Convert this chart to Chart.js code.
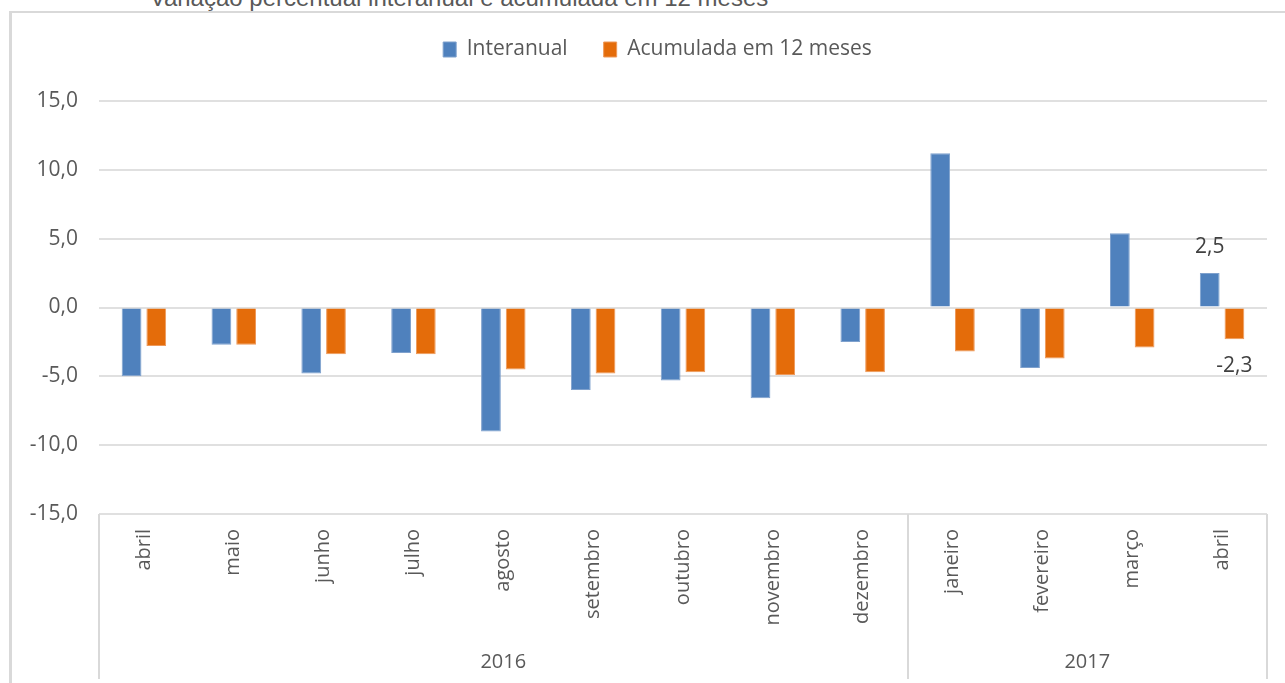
<!DOCTYPE html>
<html lang="pt">
<head>
<meta charset="utf-8">
<title>Variação percentual interanual e acumulada em 12 meses</title>
<script src="https://cdn.jsdelivr.net/npm/chart.js@4.4.1/dist/chart.umd.min.js"></script>
<style>
  html, body { margin: 0; padding: 0; background: #fff; overflow: hidden; }
  #wrap { position: relative; width: 1285px; height: 683px; }
  #frame {
    position: absolute; left: 9px; top: 11px; width: 1400px; height: 800px;
    border-left: 3px solid #d9d9d9; border-top: 2px solid #d9d9d9;
  }
  #title {
    position: absolute; left: 0; top: -14px; width: 918px; text-align: center;
    font: 24px/24px "Liberation Sans", Arial, sans-serif; color: #595959; white-space: nowrap;
  }
  #chart-box { position: absolute; left: 0; top: 0; width: 1285px; height: 683px; }
</style>
</head>
<body>
<div id="wrap">
  <div id="frame"></div>
  <div id="title">Variação percentual interanual e acumulada em 12 meses</div>
  <div id="chart-box"><canvas id="chart"></canvas></div>
</div>
<script>
(function () {
  'use strict';

  // months, grouped by year
  var months = ['abril', 'maio', 'junho', 'julho', 'agosto', 'setembro', 'outubro', 'novembro', 'dezembro', 'janeiro', 'fevereiro', 'março', 'abril'];
  var years = ['2016', '2017'];
  var yearSpans = [9, 4];

  var interanual = [-5.0, -2.7, -4.8, -3.3, -9.0, -6.0, -5.3, -6.6, -2.5, 11.2, -4.4, 5.4, 2.5];
  var acumulada = [-2.8, -2.7, -3.4, -3.4, -4.5, -4.8, -4.7, -4.9, -4.7, -3.2, -3.7, -2.9, -2.3];

  var yTicks = [-15, -10, -5, 0, 5, 10, 15];
  var labeledIndex = 12;

  var GRAY = '#595959';
  var GRID = '#e0e0e0';

  function fmt(v) {
    return v.toFixed(1).replace('.', ',');
  }

  function yearCenters() {
    var out = [];
    var start = 0;
    yearSpans.forEach(function (n) {
      out.push(start + n / 2);
      start += n;
    });
    return out;
  }

  function yearBounds() {
    var out = [0];
    var start = 0;
    yearSpans.forEach(function (n) {
      start += n;
      out.push(start);
    });
    return out;
  }

  var legendSpace = {
    id: 'legendSpace',
    beforeInit: function (chart) {
      var fit = chart.legend.fit;
      chart.legend.fit = function () {
        fit.bind(chart.legend)();
        this.height += 34;
      };
    },
    afterLayout: function (chart) {
      chart.legend.left += 18;
      chart.legend.right += 18;
      chart.legend.top += 3;
      chart.legend.bottom += 3;
    }
  };

  var separators = {
    id: 'separators',
    afterDraw: function (chart) {
      var xs = chart.scales.x;
      var ctx = chart.ctx;
      var step = xs.getPixelForValue(1) - xs.getPixelForValue(0);
      var first = xs.getPixelForValue(0) - step / 2;
      ctx.save();
      ctx.strokeStyle = '#d9d9d9';
      ctx.lineWidth = 2;
      yearBounds().forEach(function (b) {
        var x = Math.round(first + b * step);
        ctx.beginPath();
        ctx.moveTo(x, chart.chartArea.bottom);
        ctx.lineTo(x, chart.height - 4);
        ctx.stroke();
      });
      ctx.restore();
    }
  };

  var valueLabels = {
    id: 'valueLabels',
    afterDatasetsDraw: function (chart) {
      var ctx = chart.ctx;
      ctx.save();
      ctx.font = '21px "Open Sans", sans-serif';
      ctx.fillStyle = '#404040';
      ctx.textAlign = 'center';
      ctx.textBaseline = 'middle';
      chart.data.datasets.forEach(function (ds, i) {
        var el = chart.getDatasetMeta(i).data[labeledIndex];
        var v = ds.data[labeledIndex];
        var y = v >= 0 ? el.y - 26 : el.y + 27;
        ctx.fillText(fmt(v), el.x, y);
      });
      ctx.restore();
    }
  };

  Chart.defaults.font.family = '"Open Sans", sans-serif';
  Chart.defaults.color = GRAY;

  new Chart(document.getElementById('chart').getContext('2d'), {
    type: 'bar',
    data: {
      labels: months,
      datasets: [
        {
          label: 'Interanual',
          data: interanual,
          backgroundColor: '#4f81bd',
          borderColor: '#7fa1cd',
          borderWidth: 1,
          categoryPercentage: 0.55,
          barPercentage: 0.8
        },
        {
          label: 'Acumulada em 12 meses',
          data: acumulada,
          backgroundColor: '#e46c0a',
          borderColor: '#ee995a',
          borderWidth: 1,
          categoryPercentage: 0.55,
          barPercentage: 0.8
        }
      ]
    },
    options: {
      responsive: true,
      maintainAspectRatio: false,
      animation: false,
      layout: { padding: { left: 12, right: 18, top: 0, bottom: 0 } },
      scales: {
        x: {
          weight: 0,
          grid: { display: false, drawTicks: false },
          border: { display: false },
          ticks: {
            minRotation: 90,
            maxRotation: 90,
            autoSkip: false,
            padding: 15,
            color: GRAY,
            font: { size: 20 }
          },
          afterFit: function (scale) { scale.height = 130; }
        },
        x2: {
          type: 'linear',
          position: 'bottom',
          weight: 1,
          offset: false,
          min: 0,
          max: months.length,
          grid: { display: false, drawTicks: false, offset: false },
          border: { display: false },
          afterBuildTicks: function (scale) {
            scale.ticks = yearCenters().map(function (v) { return { value: v }; });
          },
          ticks: {
            autoSkip: false,
            maxRotation: 0,
            padding: 6,
            color: GRAY,
            font: { size: 20 },
            callback: function (v, i) { return years[i]; }
          },
          afterFit: function (scale) { scale.height = 39; }
        },
        y: {
          min: -15,
          max: 15,
          grid: { color: GRID, lineWidth: 2, drawTicks: false },
          border: { display: false },
          afterBuildTicks: function (scale) {
            scale.ticks = yTicks.map(function (v) { return { value: v }; });
          },
          ticks: {
            padding: 21,
            color: GRAY,
            font: { size: 21 },
            callback: function (v) { return fmt(v); }
          },
          afterFit: function (scale) { scale.width = 87; }
        }
      },
      plugins: {
        legend: {
          position: 'top',
          labels: {
            boxWidth: 13,
            boxHeight: 15,
            padding: 36,
            color: GRAY,
            font: { size: 21 }
          }
        },
        tooltip: { enabled: false }
      }
    },
    plugins: [legendSpace, separators, valueLabels]
  });
})();
</script>
</body>
</html>
